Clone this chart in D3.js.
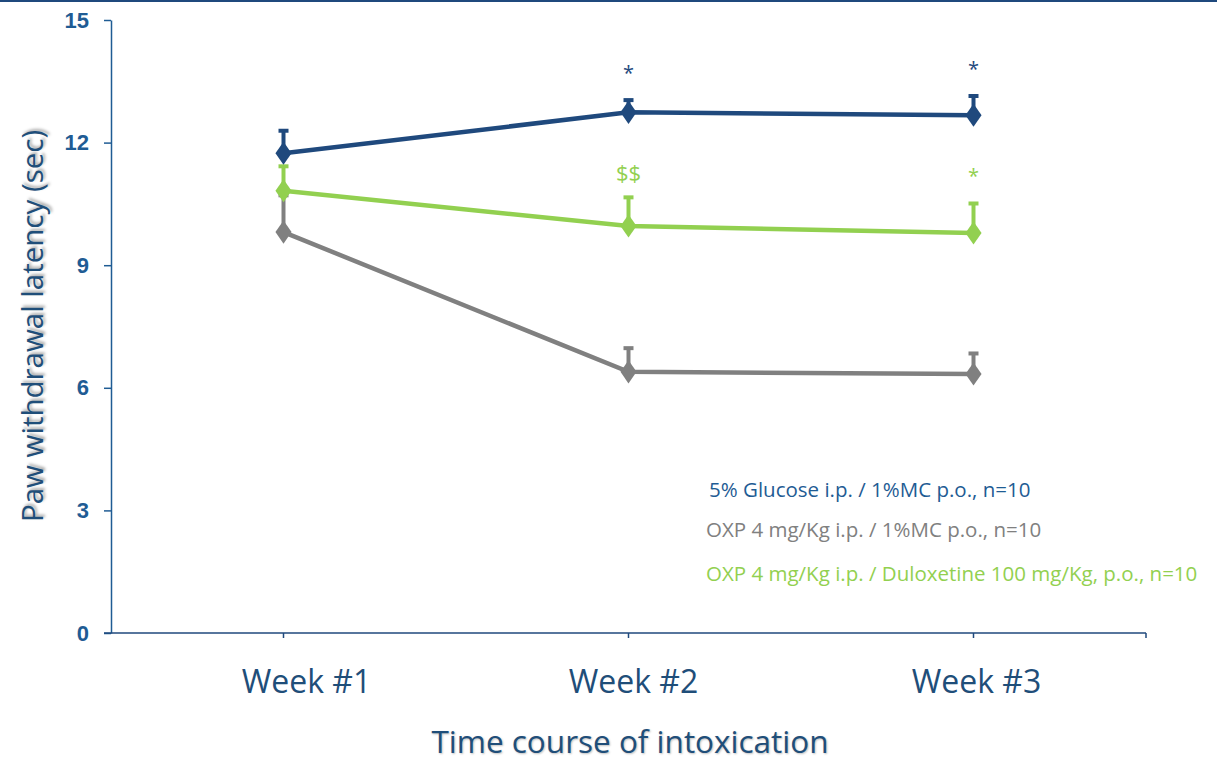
<!DOCTYPE html>
<html>
<head>
<meta charset="utf-8">
<script src="https://cdn.jsdelivr.net/npm/d3@7"></script>
<style>
  body { margin: 0; background: #fff; }
  svg { display: block; }
</style>
</head>
<body>
<div id="chart"></div>
<script>
// data
const weeks = ['Week #1', 'Week #2', 'Week #3'];
const yTicks = [0, 3, 6, 9, 12, 15];
const glucoseMean = [11.74, 12.74, 12.67];
const glucoseErr = [0.55, 0.3, 0.47];
const oxpMean = [9.81, 6.39, 6.34];
const oxpErr = [0.9, 0.58, 0.5];
const duloxMean = [10.82, 9.96, 9.79];
const duloxErr = [0.6, 0.7, 0.72];
const legendLabels = [
  '5% Glucose i.p. / 1%MC p.o., n=10',
  'OXP 4 mg/Kg i.p. / 1%MC p.o., n=10',
  'OXP 4 mg/Kg i.p. / Duloxetine 100 mg/Kg, p.o., n=10'
];
// significance marks: [series, week index, text]
const marks = [
  ['glucose', 1, '*'], ['glucose', 2, '*'],
  ['dulox', 1, '$$'], ['dulox', 2, '*']
];

const W = 1217, H = 763;
const MARGIN = { TOP: 20, BOTTOM: 130, LEFT: 111, RIGHT: 71 };

const colors = { glucose: '#1f497d', oxp: '#808080', dulox: '#92d050' };
const axisColor = '#1f5c94';
const titleColor = '#1f4e79';

const series = [
  { key: 'glucose', mean: glucoseMean, err: glucoseErr, label: legendLabels[0], textColor: '#1f5c94' },
  { key: 'oxp', mean: oxpMean, err: oxpErr, label: legendLabels[1], textColor: '#808080' },
  { key: 'dulox', mean: duloxMean, err: duloxErr, label: legendLabels[2], textColor: '#92d050' }
];

const svg = d3.select('#chart').append('svg')
  .attr('width', W).attr('height', H);

// top border line
svg.append('line')
  .attr('x1', 0).attr('x2', W).attr('y1', 1).attr('y2', 1)
  .attr('stroke', '#1f497d').attr('stroke-width', 2);

const x = d3.scaleBand()
  .domain(weeks)
  .range([MARGIN.LEFT, W - MARGIN.RIGHT]);
const xc = (w) => x(w) + x.bandwidth() / 2;

const y = d3.scaleLinear()
  .domain([0, 15])
  .range([H - MARGIN.BOTTOM, MARGIN.TOP]);

// y axis
const yAxis = svg.append('g')
  .attr('transform', `translate(${MARGIN.LEFT},0)`)
  .call(d3.axisLeft(y).tickValues(yTicks).tickSize(7).tickPadding(15).tickSizeOuter(0));
yAxis.select('.domain').attr('stroke', axisColor).attr('stroke-width', 1.5);
yAxis.selectAll('.tick line').attr('stroke', axisColor).attr('stroke-width', 1.5);
yAxis.selectAll('.tick text')
  .attr('fill', axisColor)
  .style('font-family', 'Arial, "Liberation Sans", sans-serif')
  .style('font-weight', 'bold')
  .style('font-size', '22px');

// x axis
const xAxisY = y(0);
svg.append('line')
  .attr('x1', MARGIN.LEFT - 7).attr('x2', W - MARGIN.RIGHT)
  .attr('y1', xAxisY).attr('y2', xAxisY)
  .attr('stroke', '#1f497d').attr('stroke-width', 1.5);
svg.selectAll('.xtick')
  .data(weeks.map(xc).concat([W - MARGIN.RIGHT]))
  .join('line')
  .attr('class', 'xtick')
  .attr('x1', (d) => d).attr('x2', (d) => d)
  .attr('y1', xAxisY).attr('y2', xAxisY + 5)
  .attr('stroke', '#1f497d').attr('stroke-width', 1.5);

// labels in the original sit a little right of their ticks
const labelShift = [23, 5, 3];
svg.selectAll('.xlabel')
  .data(weeks)
  .join('text')
  .attr('class', 'xlabel')
  .attr('x', (d, i) => xc(d) + labelShift[i])
  .attr('y', 693)
  .attr('text-anchor', 'middle')
  .attr('fill', titleColor)
  .style('font-family', '"Open Sans", sans-serif')
  .style('font-size', '32px')
  .text((d) => d);

// axis titles
svg.append('text')
  .attr('x', 630).attr('y', 753)
  .attr('text-anchor', 'middle')
  .attr('fill', titleColor)
  .style('font-family', '"Open Sans", sans-serif')
  .style('font-size', '31.5px')
  .style('text-shadow', '1px 1px 2px rgba(0,0,0,0.25)')
  .text('Time course of intoxication');

svg.append('text')
  .attr('transform', 'translate(43,326) rotate(-90)')
  .attr('text-anchor', 'middle')
  .attr('fill', titleColor)
  .style('font-family', '"Open Sans", sans-serif')
  .style('font-size', '29.5px')
  .style('text-shadow', '2px 2px 3px rgba(0,0,0,0.35)')
  .text('Paw withdrawal latency (sec)');

// draw gray first, then green, then blue on top
const drawOrder = [series[1], series[2], series[0]];
const line = d3.line()
  .x((d, i) => xc(weeks[i]))
  .y((d) => y(d));
const diamond = d3.symbol().type(d3.symbolDiamond).size(170);

drawOrder.forEach((s) => {
  const g = svg.append('g');
  const c = colors[s.key];
  // error bars (upper only)
  g.selectAll('.err')
    .data(s.mean)
    .join('line')
    .attr('x1', (d, i) => xc(weeks[i])).attr('x2', (d, i) => xc(weeks[i]))
    .attr('y1', (d) => y(d))
    .attr('y2', (d, i) => y(d + s.err[i]))
    .attr('stroke', c).attr('stroke-width', 4);
  g.selectAll('.cap')
    .data(s.mean)
    .join('line')
    .attr('x1', (d, i) => xc(weeks[i]) - 5).attr('x2', (d, i) => xc(weeks[i]) + 5)
    .attr('y1', (d, i) => y(d + s.err[i]))
    .attr('y2', (d, i) => y(d + s.err[i]))
    .attr('stroke', c).attr('stroke-width', 4);
  g.append('path')
    .datum(s.mean)
    .attr('d', line)
    .attr('fill', 'none')
    .attr('stroke', c)
    .attr('stroke-width', 4.5);
  g.selectAll('.pt')
    .data(s.mean)
    .join('path')
    .attr('transform', (d, i) => `translate(${xc(weeks[i])},${y(d)}) scale(1.15,0.95)`)
    .attr('d', diamond)
    .attr('fill', c);
});

// significance marks
const byKey = { glucose: series[0], oxp: series[1], dulox: series[2] };
svg.selectAll('.mark')
  .data(marks)
  .join('text')
  .attr('class', 'mark')
  .attr('x', (d) => xc(weeks[d[1]]))
  .attr('y', (d) => {
    const s = byKey[d[0]];
    return y(s.mean[d[1]] + s.err[d[1]]) - (d[2] === '$$' ? 16 : 20);
  })
  .attr('text-anchor', 'middle')
  .attr('fill', (d) => colors[d[0]])
  .style('font-family', '"Open Sans", sans-serif')
  .style('font-size', (d) => d[2] === '$$' ? '22px' : '20px')
  .text((d) => d[2]);

// legend
svg.selectAll('.legend')
  .data(series)
  .join('text')
  .attr('class', 'legend')
  .attr('x', (d, i) => i === 0 ? 709 : 706)
  .attr('y', (d, i) => [497, 537, 581][i])
  .attr('fill', (d) => d.textColor)
  .style('font-family', '"Open Sans", sans-serif')
  .style('font-size', '20.5px')
  .text((d) => d.label);
</script>
</body>
</html>
